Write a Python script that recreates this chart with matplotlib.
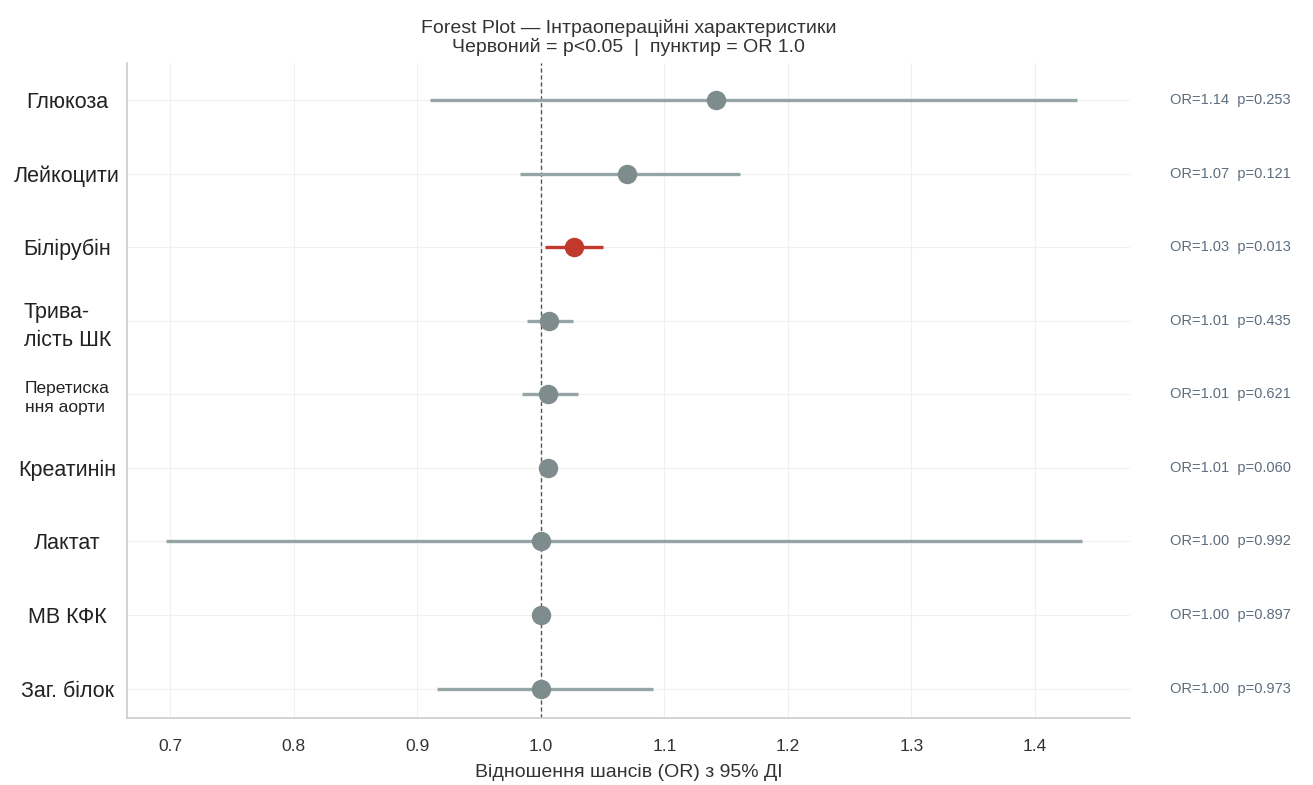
import numpy as np
import matplotlib
matplotlib.use('Agg')
from matplotlib import pyplot as plt

# ---------------------------- Data ----------------------------
# rows listed bottom -> top
labels = ['Заг. білок', 'МВ КФК', 'Лактат', 'Креатинін', 'Перетиска\nння аорти',
          'Трива-\nлість ШК', 'Білірубін', 'Лейкоцити', 'Глюкоза']
odds = [1.00, 1.00, 1.00, 1.006, 1.006, 1.007, 1.027, 1.07, 1.142]
ci_lo = [0.916, 0.998, 0.697, 1.003, 0.985, 0.989, 1.003, 0.983, 0.910]
ci_hi = [1.091, 1.004, 1.438, 1.009, 1.030, 1.026, 1.050, 1.161, 1.434]
or_text = ['1.00', '1.00', '1.00', '1.01', '1.01', '1.01', '1.03', '1.07', '1.14']
pvals = ['0.973', '0.897', '0.992', '0.060', '0.621', '0.435', '0.013', '0.121', '0.253']
x_ticks = [0.7, 0.8, 0.9, 1.0, 1.1, 1.2, 1.3, 1.4]

GREY = '#7f8c8d'
LINE_GREY = '#95a5a6'
RED = '#c0392b'

plt.rcParams['font.family'] = ['Liberation Sans', 'DejaVu Sans']

fig = plt.figure(figsize=(13.13, 7.85), dpi=100)
ax = fig.add_axes([0.0967, 0.0854, 0.764, 0.834])

ys = np.arange(len(labels))
for y, o, lo, hi, p in zip(ys, odds, ci_lo, ci_hi, pvals):
    sig = float(p) < 0.05
    ax.plot([lo, hi], [y, y], color=RED if sig else LINE_GREY, lw=2.4,
            solid_capstyle='butt', zorder=2)
    ax.plot(o, y, 'o', color=RED if sig else GREY, markersize=13, zorder=3)

# OR = 1 reference
ax.axvline(1.0, color='#555555', lw=1.0, ls=(0, (3, 2)), zorder=1)

# OR / p annotations on the right
for y, t, p in zip(ys, or_text, pvals):
    ax.text(1.04, y, f'OR={t}  p={p}', transform=ax.get_yaxis_transform(),
            va='center', ha='left', fontsize=10.5, color='#5d6d7e', clip_on=False)

ax.set_xlim(0.665, 1.477)
ax.set_ylim(-0.4, 8.5)
ax.set_xticks(x_ticks)
ax.set_xticklabels([f'{v:.1f}' for v in x_ticks], fontsize=12.5, color='#333333')
ax.set_yticks(ys)
ax.set_yticklabels(labels, fontsize=15.5, color='#222222', ha='center', multialignment='left')
for lab in ax.get_yticklabels():
    txt = lab.get_text()
    if txt.startswith('Перетиска'):
        lab.set_fontsize(12.5)
        lab.set_linespacing(1.35)
    elif txt.startswith('Трива'):
        lab.set_linespacing(1.45)
ax.tick_params(axis='y', length=0, pad=43)
ax.tick_params(axis='x', length=0, pad=15)

ax.grid(True, color='#f0f0f0', lw=0.8, zorder=0)
ax.set_axisbelow(True)
for s in ['top', 'right']:
    ax.spines[s].set_visible(False)
for s in ['left', 'bottom']:
    ax.spines[s].set_color('#cccccc')
    ax.spines[s].set_linewidth(1.2)

ax.set_title('Forest Plot — Інтраопераційні характеристики\nЧервоний = p<0.05  |  пунктир = OR 1.0',
             fontsize=14, color='#333333', pad=8, linespacing=1.1)
ax.set_xlabel('Відношення шансів (OR) з 95% ДІ', fontsize=14, color='#333333', labelpad=7)

fig.savefig('out.png', dpi=100)
